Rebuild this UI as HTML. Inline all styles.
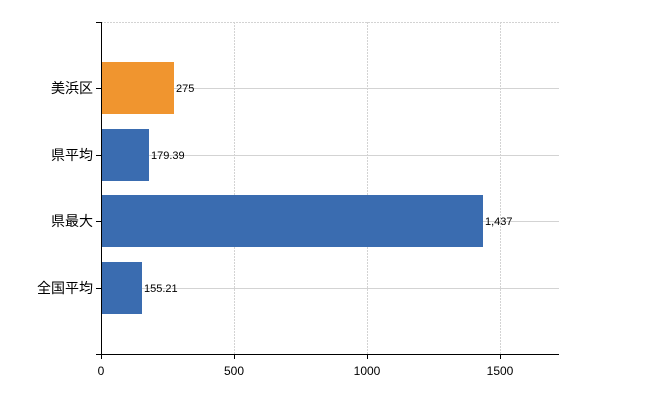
<!DOCTYPE html>
<html><head><meta charset="utf-8"><style>body{margin:0;background:#fff}svg{display:block}</style></head><body>
<svg width="650" height="400" xmlns="http://www.w3.org/2000/svg" font-family="Liberation Sans, Noto Sans CJK JP, sans-serif">
<g stroke="#d3d3d3" stroke-width="1">
<line x1="101" y1="22.5" x2="559" y2="22.5" stroke-dasharray="2,1"/>
<line x1="234.5" y1="22" x2="234.5" y2="354" stroke-dasharray="2,1"/>
<line x1="367.5" y1="22" x2="367.5" y2="354" stroke-dasharray="2,1"/>
<line x1="500.5" y1="22" x2="500.5" y2="354" stroke-dasharray="2,1"/>
<line x1="101" y1="88.5" x2="559" y2="88.5"/>
<line x1="101" y1="155.5" x2="559" y2="155.5"/>
<line x1="101" y1="221.5" x2="559" y2="221.5"/>
<line x1="101" y1="288.5" x2="559" y2="288.5"/>
</g>
<rect x="101" y="62" width="73" height="52" fill="#f0952f"/>
<rect x="101" y="129" width="48" height="52" fill="#3a6cb0"/>
<rect x="101" y="195" width="382" height="52" fill="#3a6cb0"/>
<rect x="101" y="262" width="41" height="52" fill="#3a6cb0"/>
<g font-size="11" fill="#000">
<text x="176" y="92">275</text>
<text x="151" y="159">179.39</text>
<text x="485" y="225">1,437</text>
<text x="144" y="292">155.21</text>
</g>
<g stroke="#000" stroke-width="1">
<line x1="101.5" y1="22" x2="101.5" y2="354"/>
<line x1="101" y1="354.5" x2="559" y2="354.5"/>
<line x1="96" y1="22.5" x2="101" y2="22.5"/>
<line x1="96" y1="88.5" x2="101" y2="88.5"/>
<line x1="96" y1="155.5" x2="101" y2="155.5"/>
<line x1="96" y1="221.5" x2="101" y2="221.5"/>
<line x1="96" y1="288.5" x2="101" y2="288.5"/>
<line x1="96" y1="354.5" x2="101" y2="354.5"/>
<line x1="101.5" y1="354" x2="101.5" y2="359"/>
<line x1="234.5" y1="354" x2="234.5" y2="359"/>
<line x1="367.5" y1="354" x2="367.5" y2="359"/>
<line x1="500.5" y1="354" x2="500.5" y2="359"/>
</g>
<g font-size="14" fill="#000" text-anchor="end">
<text x="93" y="93">美浜区</text>
<text x="93" y="160">県平均</text>
<text x="93" y="226">県最大</text>
<text x="93" y="293">全国平均</text>
</g>
<g font-size="12" fill="#000" text-anchor="middle">
<text x="101" y="375">0</text>
<text x="234" y="375">500</text>
<text x="367" y="375">1000</text>
<text x="500" y="375">1500</text>
</g>
</svg>
</body></html>
